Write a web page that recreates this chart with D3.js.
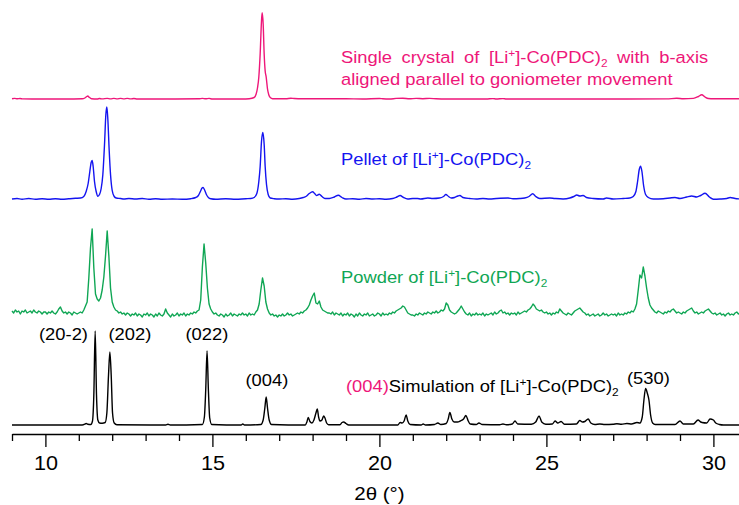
<!DOCTYPE html>
<html>
<head>
<meta charset="utf-8">
<script src="https://cdn.jsdelivr.net/npm/d3@7"></script>
<style>
  body { margin: 0; background: #fff; }
  svg { display: block; font-family: Arial, "Liberation Sans", sans-serif; }
</style>
</head>
<body>
<svg id="chart" width="739" height="505"></svg>
<script>
// ---- 2θ axis ----
const twoThetaDomain = [9, 31];
const majorTicks = [10, 15, 20, 25, 30];
const minorTicks = [9, 11, 12, 13, 14, 16, 17, 18, 19, 21, 22, 23, 24, 26, 27, 28, 29, 31];
const axisTitle = "2θ (°)";

// ---- Single crystal, b-axis parallel to goniometer movement: [2θ, intensity] ----
const singleCrystal = [
  [9.00,0.2],[9.08,0.6],[9.16,0.2],[9.24,0.5],[9.32,0.1],[9.60,0],[10.00,0],[10.60,0],
  [11.10,0.2],[11.18,1],[11.24,2.5],[11.27,3],[11.31,1.8],[11.38,0.3],[11.55,0],[11.62,0.5],
  [11.70,0.1],[11.85,0.6],[11.95,0.1],[12.05,0.6],[12.15,0.1],[12.25,0.6],[12.35,0.1],
  [12.45,0.6],[12.55,0.1],[12.65,0.5],[12.75,0],[13.50,0],[14.60,0.2],[14.70,0.6],[14.80,0.2],
  [14.90,0.6],[15.00,0],[15.90,0],[16.10,0.3],[16.25,1.5],[16.31,5],[16.35,11],[16.39,22],
  [16.43,45],[16.47,78],[16.49,86.3],[16.52,75],[16.55,45],[16.58,28],[16.61,22],[16.65,10],
  [16.69,4],[16.74,1.2],[16.80,0.3],[17.20,0.3],[17.35,0.8],[17.45,0.5],[17.70,0.3],[19.00,0.2],
  [19.50,0],[20.00,0.5],[20.10,0.2],[20.30,0],[20.50,0.6],[20.70,0.8],[20.90,0.2],[21.10,0.6],
  [21.30,0.3],[21.50,0.6],[21.70,0.2],[22.00,0],[23.20,0],[23.40,0.4],[23.50,0],[23.70,0.4],
  [23.80,0],[24.00,0],[27.40,0],[28.60,0.1],[28.90,0.7],[29.10,0.3],[29.40,0.6],[29.55,2.5],
  [29.65,4.3],[29.75,2],[29.85,0.5],[30.00,0.2],[30.80,0.2]
];

// ---- Pellet: [2θ, intensity] ----
const pellet = [
  [9.00,0.5],[9.15,1],[9.30,0.3],[9.50,1],[9.70,0.2],[9.90,0.8],[10.10,0.3],[10.30,0.8],
  [10.50,0.2],[10.70,0.7],[10.90,1.2],[11.05,1.5],[11.15,3],[11.22,8],[11.28,16],[11.33,28],
  [11.37,37],[11.40,39],[11.43,33],[11.47,18],[11.52,8],[11.57,3.3],[11.62,5],[11.67,11],
  [11.72,25],[11.77,55],[11.81,85],[11.84,92.6],[11.87,80],[11.91,49],[11.95,25],[12.00,9],
  [12.06,3],[12.12,1.5],[12.25,1],[12.35,0.5],[12.50,1],[12.70,0.5],[12.90,1],[13.10,0.3],
  [13.30,0.8],[13.50,0.2],[13.80,0.5],[14.10,0.2],[14.35,0.8],[14.50,2],[14.58,4],[14.64,8],
  [14.69,11.5],[14.72,12],[14.76,10],[14.82,5],[14.88,2],[14.95,0.8],[15.10,0.3],[15.40,0.8],
  [15.70,0.2],[16.00,0.8],[16.15,1],[16.25,2],[16.33,6],[16.39,18],[16.43,33],[16.47,58],
  [16.51,67],[16.55,55],[16.58,33],[16.62,15],[16.67,5],[16.73,1.5],[16.85,0.8],[17.00,0.5],
  [17.20,0.8],[17.40,0.3],[17.60,1],[17.72,2],[17.80,3],[17.90,6],[18.00,7.7],[18.06,6],
  [18.12,4],[18.20,5.3],[18.28,3],[18.37,1],[18.50,1],[18.65,2.5],[18.77,4.3],[18.88,2],
  [19.00,0.5],[19.20,0.8],[19.40,0.3],[19.60,1],[19.80,0.5],[20.00,0.8],[20.20,0.2],[20.40,1],
  [20.52,2.5],[20.62,4],[20.72,2],[20.85,0.5],[21.00,1],[21.14,1],[21.24,0.5],[21.45,1.5],
  [21.60,1],[21.80,1.5],[21.92,3],[21.99,5],[22.07,3],[22.15,1.5],[22.25,2],[22.35,3.5],
  [22.41,4],[22.50,2],[22.71,1],[22.90,0.5],[23.10,1],[23.30,0.5],[23.50,1],[23.85,1.5],
  [24.00,0.8],[24.20,1],[24.35,1.5],[24.48,3],[24.59,5.7],[24.68,3],[24.80,1],[25.10,1.5],
  [25.25,1],[25.50,0.5],[25.70,1.5],[25.82,3],[25.91,4.5],[26.00,3.5],[26.10,4],[26.20,2],
  [26.40,1],[26.70,0.5],[26.80,1.5],[27.00,0.5],[27.30,1],[27.50,1.5],[27.60,3],[27.68,8],
  [27.73,18],[27.78,30],[27.82,33.3],[27.86,28],[27.91,14],[27.97,5],[28.05,2],[28.20,0.5],
  [28.50,0.8],[28.70,1.5],[28.85,2],[29.00,1],[29.20,2.5],[29.35,3.5],[29.50,2.5],[29.62,4],
  [29.75,6.3],[29.88,2.5],[30.00,0.3],[30.20,0.5],[30.40,1],[30.50,2],[30.65,1],[30.80,0.5]
];

// ---- Powder: counts on a regular 2θ grid (one row per degree) ----
const powderStart = 9.0;
const powderStep = 0.05;
const powderCounts = [
  7,5,8,6,7,4,7,6,8,5,6,7,5,8,6,5,7,6,4,6,          // 9
  6,4,6,5,7,5,4,6,9,11,7,5,6,4,6,5,3,6,5,4,          // 10
  5,6,5,8,12,16,40,70,89,50,24,19,17,20,28,41,62,87,62,30, // 11
  16,11,8,7,5,6,4,5,3,5,4,2,4,3,5,2,4,3,1,4,         // 12
  3,5,2,4,3,1,4,2,5,3,2,4,9,5,3,1,4,2,3,5,           // 13
  2,4,3,5,2,4,3,5,4,6,5,7,8,18,51,74,55,30,14,9,     // 14
  6,4,5,3,2,4,3,1,4,2,3,5,2,4,3,2,4,3,5,3,           // 15
  4,2,5,3,4,3,6,8,14,28,40,32,16,9,5,3,4,2,3,1,      // 16
  3,2,4,2,3,5,3,4,2,3,4,5,4,6,5,7,8,10,13,18,        // 17
  22,25,15,14,17,11,8,7,6,5,5,4,6,3,5,4,3,5,2,4,     // 18
  3,5,2,4,3,1,4,2,5,3,2,4,3,5,2,3,4,2,3,5,           // 19
  4,2,5,3,4,3,5,4,6,5,7,8,9,10,12,11,8,5,4,3,        // 20
  3,2,4,3,5,4,3,5,4,6,5,4,6,5,7,5,6,8,7,9,           // 21
  15,13,8,6,5,4,5,7,9,12,9,6,4,3,5,2,4,3,5,3,        // 22
  4,3,5,2,4,3,4,5,3,6,4,5,7,8,5,6,4,5,3,5,           // 23
  4,5,3,6,4,5,6,7,6,8,9,11,14,12,9,8,7,8,6,5,        // 24
  6,4,5,3,5,4,6,5,9,7,5,4,3,5,4,3,5,7,8,9,           // 25
  10,8,6,5,3,4,2,3,4,2,3,4,2,3,5,3,4,2,3,4,          // 26
  3,4,2,5,3,4,3,5,4,6,5,7,6,9,14,28,43,40,51,42,     // 27
  30,20,13,10,8,6,5,7,6,5,4,6,5,7,6,8,9,7,5,6,       // 28
  5,4,6,5,7,8,9,10,7,5,6,4,5,6,5,7,8,9,7,5,          // 29
  4,5,3,4,5,3,4,2,4,5,3,4,3,5,6,4,5                  // 30
];
const powder = powderCounts.map((c, i) => [powderStart + i * powderStep, c]);

// ---- Simulated pattern: [2θ, intensity] ----
const simulation = [
  [9.00,0],[11.10,0],[11.18,0.8],[11.22,1.5],[11.27,0.8],[11.36,0.5],[11.41,4],[11.45,30],
  [11.49,94],[11.53,30],[11.57,5],[11.62,2],[11.70,1.8],[11.79,2.5],[11.84,12],[11.89,50],
  [11.93,73],[11.97,50],[12.01,12],[12.06,2],[12.14,0.3],[13.60,0],[13.67,0.8],[13.74,0],
  [14.70,0.5],[14.76,8],[14.80,35],[14.84,74],[14.88,35],[14.92,7],[14.98,0.5],[15.86,0],
  [15.91,1],[15.96,0],[16.45,0.5],[16.52,5],[16.57,17],[16.61,28],[16.65,17],[16.70,5],
  [16.77,0.5],[17.78,0],[17.83,3],[17.87,7.5],[17.92,3.5],[17.98,2],[18.04,5],[18.10,12],
  [18.14,16],[18.18,8],[18.22,4],[18.28,5],[18.33,9],[18.37,7],[18.42,2],[18.48,0.3],
  [18.82,0.3],[18.88,2.5],[18.93,3],[19.00,1.5],[19.08,0],[20.55,0],[20.62,2.5],[20.68,2],
  [20.74,4],[20.80,10],[20.85,4],[20.92,0.5],[21.25,0],[21.31,1],[21.38,0],[21.65,0.5],
  [21.75,2],[21.84,0.5],[22.00,1.5],[22.06,6],[22.11,12.5],[22.17,6],[22.24,3],[22.34,3],
  [22.42,4],[22.52,6],[22.59,9.5],[22.66,4],[22.72,1],[22.90,0.5],[22.98,2],[23.08,0.5],
  [23.60,0.3],[23.70,1],[23.80,0.3],[23.98,1],[24.06,4],[24.14,1],[24.55,0.8],[24.68,3],
  [24.78,9],[24.86,3],[24.98,0.8],[25.18,1],[25.26,4],[25.34,2],[25.44,3.5],[25.54,0.8],
  [25.90,1],[26.00,4.5],[26.08,3],[26.15,3.5],[26.25,6],[26.33,2],[26.45,0.5],[26.60,1],
  [26.75,0.5],[27.00,0.8],[27.11,1.3],[27.25,0.8],[27.41,1.5],[27.55,1],[27.71,2.5],[27.80,2],
  [27.87,8],[27.92,25],[27.97,36.5],[28.02,32],[28.07,25],[28.12,10],[28.18,2],[28.26,0.5],
  [28.85,0.5],[29.00,4],[29.10,1],[29.40,1],[29.54,5],[29.62,3],[29.66,2.5],[29.80,2],
  [29.90,6],[30.00,5],[30.07,2],[30.18,0.5],[30.30,0],[31.00,0]
];

// ---- Peak indices on the simulated pattern ----
const hklLabels = ["(20-2)", "(202)", "(022)", "(004)", "(530)"];

// ---- Drawing ----
const svg = d3.select("#chart");
const FONT = "Arial, 'Liberation Sans', sans-serif";
const STRETCH = 1.08;   // glyphs are drawn slightly wide

const x = d3.scaleLinear().domain(twoThetaDomain).range([12, 746.8]);

const pinkC = "#ee1679", blueC = "#1414f0", greenC = "#0fa654";
const traces = [
  { data: singleCrystal, color: pinkC,  base: 99,    curve: d3.curveMonotoneX },
  { data: pellet,        color: blueC,  base: 199.5, curve: d3.curveMonotoneX },
  { data: powder,        color: greenC, base: 318,   curve: d3.curveLinear },
  { data: simulation,    color: "#000", base: 425,   curve: d3.curveMonotoneX }
];

const plot = svg.append("g");
traces.forEach(t => {
  const y = d3.scaleLinear().domain([0, 100]).range([t.base, t.base - 100]);
  const line = d3.line().x(d => x(d[0])).y(d => y(d[1])).curve(t.curve);
  plot.append("path")
    .datum(t.data)
    .attr("fill", "none")
    .attr("stroke", t.color)
    .attr("stroke-width", 1.4)
    .attr("stroke-linejoin", "round")
    .attr("d", line);
});

// axis: minor ticks, then major ticks with labels
const axisY = 434;
const minorAxis = svg.append("g").attr("transform", `translate(0,${axisY})`)
  .call(d3.axisBottom(x).tickValues(minorTicks).tickSize(7).tickFormat("").tickSizeOuter(0));
minorAxis.select(".domain").remove();
const majorAxis = svg.append("g").attr("transform", `translate(0,${axisY})`)
  .call(d3.axisBottom(x).tickValues(majorTicks).tickSize(13).tickPadding(9).tickSizeOuter(0));
[minorAxis, majorAxis].forEach(g => {
  g.selectAll("line").attr("stroke", "#000").attr("stroke-width", 1.3);
  g.selectAll("path").attr("stroke", "#000").attr("stroke-width", 1.3);
});
majorAxis.selectAll("text")
  .attr("fill", "#000")
  .attr("transform", `scale(${STRETCH},1)`)
  .style("font-family", FONT)
  .style("font-size", "20px");

svg.append("text")
  .attr("transform", `translate(${x(20)},500) scale(${STRETCH},1)`)
  .attr("text-anchor", "middle")
  .style("font-size", "19px")
  .attr("fill", "#000")
  .text(axisTitle);

// text with coloured runs and superscript / subscript parts
function richText(parent, px, py, parts, color, size) {
  const t = parent.append("text")
    .attr("transform", `translate(${px},${py}) scale(${STRETCH},1)`)
    .attr("fill", color).style("font-size", size + "px");
  let shift = 0;
  parts.forEach(p => {
    const s = t.append("tspan").text(p.t);
    const target = p.sup ? -6 : p.sub ? 4 : 0;
    s.attr("dy", target - shift);
    shift = target;
    if (p.sup || p.sub) s.style("font-size", Math.round(size * 0.65) + "px");
    if (p.color) s.attr("fill", p.color);
  });
  return t;
}
const compound = [{t: "[Li"}, {t: "+", sup: true}, {t: "]-Co(PDC)"}, {t: "2", sub: true}];

const line1 = richText(svg, 341, 63,
  [{t: "Single crystal of "}].concat(compound, [{t: " with b-axis"}]), pinkC, 17);
// spread the words so the first line spans the width of the block
const targetW = 376 / STRETCH;
const natural = line1.node().getComputedTextLength();
line1.style("word-spacing", Math.max(0, (targetW - natural) / 7) + "px");
richText(svg, 341, 85, [{t: "aligned parallel to goniometer movement"}], pinkC, 17);

richText(svg, 341, 165, [{t: "Pellet of "}].concat(compound), blueC, 17);
richText(svg, 341, 283, [{t: "Powder of "}].concat(compound), greenC, 17);

// peak labels on the simulated pattern
const peakLabelPos = [[39, 340], [108.5, 340], [185.5, 340], [245.5, 386], [627, 384]];
hklLabels.forEach((s, i) => {
  svg.append("text")
    .attr("transform", `translate(${peakLabelPos[i][0]},${peakLabelPos[i][1]}) scale(${STRETCH},1)`)
    .attr("fill", "#000").style("font-size", "17px").text(s);
});
richText(svg, 346, 391.5,
  [{t: "(004)", color: pinkC}, {t: "Simulation of "}].concat(compound), "#000", 17);
</script>
</body>
</html>
